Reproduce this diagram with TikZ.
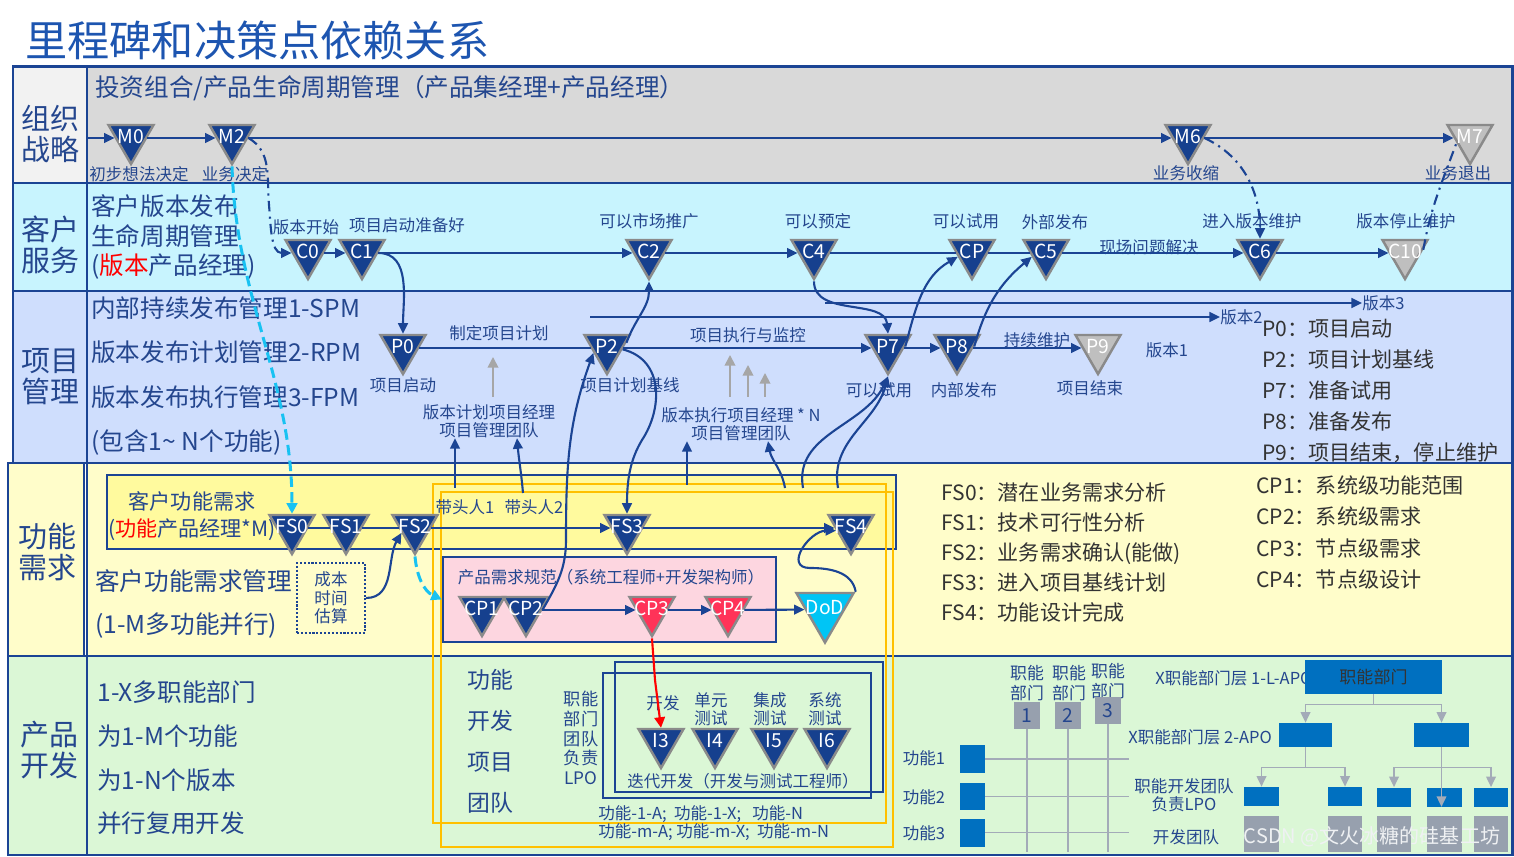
\documentclass[tikz,border=0pt]{standalone}
\usepackage{fontspec}
\setmainfont{Noto Sans CJK SC}
\usetikzlibrary{arrows.meta,shapes.geometric,positioning}

\definecolor{laneblue}{HTML}{1B4494}
\definecolor{tblue}{HTML}{24468E}
\definecolor{titleblue}{HTML}{1D55B0}
\definecolor{msblue}{HTML}{16408E}
\definecolor{msgray}{HTML}{8A8A8A}
\definecolor{offgray}{HTML}{BFBFBF}
\definecolor{strat}{HTML}{D9D9D9}
\definecolor{stratl}{HTML}{F2F2F2}
\definecolor{cust}{HTML}{C8F4FE}
\definecolor{proj}{HTML}{CFDEFD}
\definecolor{feat}{HTML}{FFFDCA}
\definecolor{dev}{HTML}{DBF7D6}
\definecolor{fsbox}{HTML}{FFFA9E}
\definecolor{reqbox}{HTML}{FDD6E0}
\definecolor{orng}{HTML}{FFC000}
\definecolor{cpred}{HTML}{FF3358}
\definecolor{dodcyan}{HTML}{00C5F5}
\definecolor{dashcyan}{HTML}{18C2F2}
\definecolor{fnblue}{HTML}{0070C0}
\definecolor{sqgray}{HTML}{97A0AE}
\definecolor{treegray}{HTML}{A3ABB8}

\begin{document}
\begin{tikzpicture}[x=0.02cm,y=-0.02cm,
  lanebox/.style={draw=laneblue,line width=1.7pt},
  ms/.style={regular polygon,regular polygon sides=3,shape border rotate=180,
    minimum size=1.04cm,inner sep=0pt,fill=msblue,draw=msgray,line width=1.4pt},
  msoff/.style={ms,fill=offgray},
  msred/.style={ms,fill=cpred},
  mslbl/.style={text=white,font=\fontsize{11}{11}\selectfont,inner sep=0pt,yshift=1pt},
  lbl/.style={text=tblue,font=\fontsize{9.4}{10.5}\selectfont,inner sep=0pt,align=center},
  lanehead/.style={text=tblue,font=\fontsize{16.5}{17.6}\selectfont,inner sep=0pt,align=center},
  lanetext/.style={text=tblue,font=\fontsize{14}{17}\selectfont,inner sep=0pt,align=left,anchor=west},
  legtext/.style={text=black!80,font=\fontsize{12}{17.6}\selectfont,inner sep=0pt,align=left,anchor=west},
  conn/.style={draw=laneblue,line width=1.2pt},
  arr/.style={conn,-{Triangle[length=6pt,width=5.5pt]}},
  dashdot/.style={dash pattern=on 6pt off 3pt on 1.2pt off 3pt},
  uparr/.style={draw=black!35,line width=1pt,-{Triangle[length=6pt,width=6pt]}},
  cyanarr/.style={draw=dashcyan,line width=1.7pt,dash pattern=on 6pt off 3pt,-{Triangle[length=6pt,width=6pt]}},
  redarr/.style={draw=red,line width=1.2pt,-{Triangle[length=6pt,width=6pt]}},
  blubox/.style={draw=laneblue,line width=1.4pt},
  orbox/.style={draw=orng,line width=1.4pt},
  treearr/.style={draw=treegray,line width=0.9pt,-{Triangle[length=6pt,width=5.5pt]}},
  gline/.style={draw=treegray,line width=0.8pt},
  fnsq/.style={fill=fnblue,inner sep=0pt},
  graysq/.style={fill=sqgray,inner sep=0pt},
]
\useasboundingbox (0,0) rectangle (1514,857);

% Title
\node[anchor=west,inner sep=0pt,text=titleblue,font=\fontsize{24}{24}\selectfont] (title) at (25,40) {里程碑和决策点依赖关系};

% Lanes
\draw[lanebox,fill=strat] (87,67) rectangle (1512,183);
\draw[lanebox,fill=stratl] (13,67) rectangle (87,183);
\draw[lanebox,fill=cust] (87,183) rectangle (1512,291);
\draw[lanebox,fill=cust] (13,183) rectangle (87,291);
\draw[lanebox,fill=proj] (87,291) rectangle (1512,463);
\draw[lanebox,fill=proj] (13,291) rectangle (87,463);
\draw[lanebox,fill=feat] (87,463) rectangle (1512,656);
\draw[lanebox,fill=feat] (8,463) rectangle (84,656);
\draw[lanebox,fill=dev] (87,656) rectangle (1512,855);
\draw[lanebox,fill=dev] (8,656) rectangle (87,855);

% Lane heads
\node[lanehead] (hstrat) at (50,134) {组织\\战略};
\node[lanehead] (hcust) at (50,245) {客户\\服务};
\node[lanehead] (hproj) at (50,377) {项目\\管理};
\node[lanehead] (hfeat) at (47,552) {功能\\需求};
\node[lanehead] (hdev) at (49,750) {产品\\开发};

% Boxes in feature and development lanes
\draw[blubox,fill=fsbox] (107,475) rectangle (896,549);
\node[blubox,fill=reqbox,minimum width=6.66cm,minimum height=1.7cm,inner sep=0pt] (req) at (609.5,599.5) {};
\draw[blubox] (615,662) rectangle (883,792);
\draw[blubox] (603,673) rectangle (871,798);
\draw[orbox] (433,484) rectangle (886,823);
\draw[orbox] (441,492) rectangle (893,847);

% Strategy lane texts
\node[lanetext] (tstrat) at (95,88) {投资组合/产品生命周期管理（产品集经理+产品经理）};
\node[lbl] (lm0) at (139,174) {初步想法决定};
\node[lbl] (lm2) at (235,174) {业务决定};
\node[lbl] (lm6) at (1186,173) {业务收缩};
\node[lbl] (lm7) at (1458,173) {业务退出};

% Customer lane texts
\node[lanetext] (tcust) at (91,237) {客户版本发布\\生命周期管理\\(\textcolor{red}{版本}产品经理)};
\node[lbl] (lc0) at (306,227) {版本开始};
\node[lbl] (lc1) at (407,225) {项目启动准备好};
\node[lbl] (lc2) at (649,221) {可以市场推广};
\node[lbl] (lc4) at (818,221) {可以预定};
\node[lbl] (lcp) at (966,221) {可以试用};
\node[lbl] (lc5) at (1055,222) {外部发布};
\node[lbl] (lfix) at (1149,247) {现场问题解决};
\node[lbl] (lc6) at (1252,221) {进入版本维护};
\node[lbl] (lc10) at (1406,221) {版本停止维护};

% Project lane texts
\node[lanetext,font=\fontsize{14}{25.2}\selectfont] (tproj) at (91,376) {内部持续发布管理1-SPM\\版本发布计划管理2-RPM\\版本发布执行管理3-FPM\\(包含1\textasciitilde{} N个功能)};
\node[lbl] (lplan) at (499,333) {制定项目计划};
\node[lbl] (lp0) at (403,385) {项目启动};
\node[lbl] (planpm) at (489,421) {版本计划项目经理\\项目管理团队};
\node[lbl] (lp2) at (630,385) {项目计划基线};
\node[lbl] (lexec) at (748,335) {项目执行与监控};
\node[lbl] (execpm) at (741,424) {版本执行项目经理 * N\\项目管理团队};
\node[lbl] (lp7) at (879,390) {可以试用};
\node[lbl] (lp8) at (964,390) {内部发布};
\node[lbl] (lmaint) at (1037,340) {持续维护};
\node[lbl] (lp9) at (1090,388) {项目结束};
\node[lbl] (v1) at (1167,350) {版本1};
\node[lbl,anchor=west] (v2) at (1220,317) {版本2};
\node[lbl,anchor=west] (v3) at (1362,303) {版本3};
\node[legtext] (plegend) at (1262,391) {P0：项目启动\\P2：项目计划基线\\P7：准备试用\\P8：准备发布\\P9：项目结束，停止维护};

% Feature lane texts
\node[text=tblue,font=\fontsize{12}{15.4}\selectfont,inner sep=0pt,align=center] (lfs) at (192,516) {客户功能需求\\(\textcolor{red}{功能}产品经理*M)};
\node[lbl] (lead1) at (465,507) {带头人1};
\node[lbl] (lead2) at (534,507) {带头人2};
\node[lanetext,font=\fontsize{14}{24.5}\selectfont] (tfeat) at (95,604) {客户功能需求管理\\(1-M多功能并行)};
\node[lbl,draw=laneblue,densely dotted,line width=1.2pt,minimum width=1.36cm,minimum height=1.4cm] (cost) at (331,598) {成本\\时间\\估算};
\node[lbl] (lreq) at (611,577) {产品需求规范（系统工程师+开发架构师）};
\node[legtext,font=\fontsize{12}{17.2}\selectfont] (fslegend) at (941,552.5) {FS0：潜在业务需求分析\\FS1：技术可行性分析\\FS2：业务需求确认(能做)\\FS3：进入项目基线计划\\FS4：功能设计完成};
\node[legtext,font=\fontsize{12}{17.9}\selectfont] (cplegend) at (1256,532.5) {CP1：系统级功能范围\\CP2：系统级需求\\CP3：节点级需求\\CP4：节点级设计};

% Development lane texts
\node[lanetext,font=\fontsize{14}{24.9}\selectfont] (tdev) at (97,758) {1-X多职能部门\\为1-M个功能\\为1-N个版本\\并行复用开发};
\node[text=tblue,font=\fontsize{13}{23.3}\selectfont,inner sep=0pt,align=center] (lteam) at (490,741) {功能\\开发\\项目\\团队};
\node[lbl,font=\fontsize{9.8}{11.2}\selectfont] (llpo) at (581,738) {职能\\部门\\团队\\负责\\LPO};
\node[lbl] (li3) at (663,703) {开发};
\node[lbl] (li4) at (711,709) {单元\\测试};
\node[lbl] (li5) at (770,709) {集成\\测试};
\node[lbl] (li6) at (825,709) {系统\\测试};
\node[lbl] (liter) at (743,781) {迭代开发（开发与测试工程师）};
\node[lbl,align=left,anchor=west] (lfunc) at (598,823) {功能-1-A;\ \ 功能-1-X;\ \ \ 功能-N\\功能-m-A; 功能-m-X;\ \ 功能-m-N};

% Milestones
\node[ms,label={[mslbl]center:M0}] (m0) at (131,138) {};
\node[ms,label={[mslbl]center:M2}] (m2) at (232,138) {};
\node[ms,label={[mslbl]center:M6}] (m6) at (1188,138) {};
\node[msoff,label={[mslbl]center:M7}] (m7) at (1470,138) {};

\node[ms,label={[mslbl]center:C0}] (c0) at (308,253) {};
\node[ms,label={[mslbl]center:C1}] (c1) at (362,253) {};
\node[ms,label={[mslbl]center:C2}] (c2) at (649,253) {};
\node[ms,label={[mslbl]center:C4}] (c4) at (814,253) {};
\node[ms,label={[mslbl]center:CP}] (cp) at (972,253) {};
\node[ms,label={[mslbl]center:C5}] (c5) at (1046,253) {};
\node[ms,label={[mslbl]center:C6}] (c6) at (1260,253) {};
\node[msoff,label={[mslbl]center:C10}] (c10) at (1405,253) {};

\node[ms,label={[mslbl]center:P0}] (p0) at (403,348) {};
\node[ms,label={[mslbl]center:P2}] (p2) at (607,348) {};
\node[ms,label={[mslbl]center:P7}] (p7) at (888,348) {};
\node[ms,label={[mslbl]center:P8}] (p8) at (957,348) {};
\node[msoff,label={[mslbl]center:P9}] (p9) at (1098,348) {};

\node[ms,label={[mslbl]center:FS0}] (fs0) at (292,528) {};
\node[ms,label={[mslbl]center:FS1}] (fs1) at (346,528) {};
\node[ms,label={[mslbl]center:FS2}] (fs2) at (415,528) {};
\node[ms,label={[mslbl]center:FS3}] (fs3) at (627,528) {};
\node[ms,label={[mslbl]center:FS4}] (fs4) at (851,528) {};

\node[ms,label={[mslbl]center:CP1}] (cp1) at (482,610) {};
\node[ms,label={[mslbl]center:CP2}] (cp2) at (526,610) {};
\node[msred,label={[mslbl]center:CP3}] (cp3) at (652,610) {};
\node[msred,label={[mslbl]center:CP4}] (cp4) at (728,610) {};
\node[ms,fill=dodcyan,minimum size=1.32cm,label={[mslbl]center:DoD}] (dod) at (825,609.5) {};

\node[ms,label={[mslbl]center:I3}] (i3) at (661,742) {};
\node[ms,label={[mslbl]center:I4}] (i4) at (715,742) {};
\node[ms,label={[mslbl]center:I5}] (i5) at (774,742) {};
\node[ms,label={[mslbl]center:I6}] (i6) at (827,742) {};

% Strategy connections
\coordinate (mstart) at (87,138);
\draw[arr] (mstart) -- (m0);
\draw[arr] (m0) -- (m2);
\draw[arr] (m2) -- (m6);
\draw[arr] (m6) -- (m7);
\draw[arr,dashdot] (m2.0) to[out=-30,in=95] (269,205) to[out=-85,in=180] (c0.180);
\draw[arr,dashdot] (m6.0) to[out=-25,in=90] (c6.90);
\draw[conn,dashdot] (c10.10) to[out=80,in=-110] (m7.200);

% Customer connections
\draw[arr] (c0) -- (c1);
\draw[arr] (c1) -- (c2);
\draw[arr] (c2) -- (c4);
\draw[conn] (c4) -- (cp);
\draw[conn] (cp) -- (c5);
\draw[arr] (c5) -- (c6);
\draw[arr] (c6) -- (c10);
\draw[arr] (c1.0) to[out=0,in=90] (p0.90);
\draw[arr] (p2.15) to[out=70,in=-90] (c2.-90);
\draw[arr] (c4.-90) to[out=-90,in=95] (p7.90);
\draw[arr] (p7.5) to[out=75,in=-150] (cp.195);
\draw[arr] (p8.5) to[out=75,in=-140] (c5.195);

% Project connections
\draw[conn] (p0) -- (p2);
\draw[arr] (p2) -- (p7);
\draw[arr] (p7) -- (p8);
\draw[arr] (p8) -- (p9);
\coordinate (v2start) at (590,317);
\coordinate (v3start) at (825,303);
\draw[arr] (v2start) -- (v2);
\draw[arr] (v3start) -- (v3);
\draw[arr] (p2.-5) .. controls (665,360) and (662,410) .. (642,440) .. controls (630,460) and (627,480) .. (fs3.90);
\draw[arr] (cp2.0) to[out=60,in=-90] (566,540) to[out=90,in=-110] (p2.200);

% Gray inputs
\coordinate (g1) at (493,397);
\coordinate (g2) at (730,397);
\coordinate (g3) at (748,397);
\coordinate (g4) at (765,397);
\draw[uparr] (g1) -- ++(0,-40);
\draw[uparr] (g2) -- ++(0,-42);
\draw[uparr] (g3) -- ++(0,-32);
\draw[uparr] (g4) -- ++(0,-24);

% Team feedback
\coordinate (o1) at (455,488);
\coordinate (o2) at (523,493);
\coordinate (o3) at (687,485);
\coordinate (o4) at (785,488);
\coordinate (o5) at (803,488);
\coordinate (o6) at (838,488);
\draw[arr] (o1) -- (o1 |- planpm.south);
\draw[arr] (o2) to[out=95,in=-85] (planpm.south -| 517,0);
\draw[arr] (o3) -- (o3 |- execpm.south);
\draw[arr] (o4) to[out=100,in=-80] (execpm.south -| 768,0);
\draw[arr] (o5) to[out=100,in=-115] (p7.-90);
\draw[arr] (o6) to[out=100,in=-105] (p7.-90);

% Feature connections
\draw[conn] (fs0) -- (fs1);
\draw[conn] (fs1) -- (fs2);
\draw[arr] (fs2) -- (fs3);
\draw[arr] (fs3) -- (fs4);
\draw[arr] (cost.east) to[out=0,in=-120] (fs2.200);
\draw[cyanarr] (m2.-90) .. controls (236,300) and (292,380) .. (fs0.90);
\draw[cyanarr] (fs2.-90) to[out=-85,in=155] (req.west);
\draw[arr] (cp2) -- (cp3);
\draw[arr] (cp3) -- (cp4);
\draw[arr] (cp4) -- (dod);
\draw[arr] (dod.30) to[out=100,in=0] (810,568) to[out=180,in=180,looseness=1.5] (fs4.190);
\coordinate (rj) at (655,680);
\draw[redarr] (cp3.-90) -- (rj) -- (i3.90);

% Function / department matrix
\node[lbl,font=\fontsize{9.6}{11.4}\selectfont] (col1) at (1027,683) {职能\\部门};
\node[lbl,font=\fontsize{9.6}{11.4}\selectfont] (col2) at (1069,683) {职能\\部门};
\node[lbl,font=\fontsize{9.6}{11.4}\selectfont] (col3) at (1108,681) {职能\\部门};
\node[graysq,minimum width=0.52cm,minimum height=0.54cm,text=tblue,font=\fontsize{11}{11}\selectfont] (q1) at (1027,715.5) {1};
\node[graysq,minimum width=0.52cm,minimum height=0.54cm,text=tblue,font=\fontsize{11}{11}\selectfont] (q2) at (1068,715.5) {2};
\node[graysq,minimum width=0.52cm,minimum height=0.54cm,text=tblue,font=\fontsize{11}{11}\selectfont] (q3) at (1108,710.5) {3};
\node[fnsq,minimum width=0.5cm,minimum height=0.56cm] (f1) at (972.5,759) {};
\node[fnsq,minimum width=0.5cm,minimum height=0.56cm] (f2) at (972.5,796.5) {};
\node[fnsq,minimum width=0.5cm,minimum height=0.56cm] (f3) at (972.5,832.5) {};
\node[lbl] (lf1) at (924,758) {功能1};
\node[lbl] (lf2) at (924,797) {功能2};
\node[lbl] (lf3) at (924,833) {功能3};
\draw[gline] (q1.south) -- ++(0,123);
\draw[gline] (q2.south) -- ++(0,123);
\draw[gline] (q3.south) -- ++(0,128);
\draw[gline] (f1.east) -- ++(144,0);
\draw[gline] (f2.east) -- ++(144,0);
\draw[gline] (f3.east) -- ++(144,0);

% Department tree
\node[lbl,anchor=west] (lay1) at (1155,678) {X职能部门层 1-L-APO};
\node[lbl,anchor=west] (lay2) at (1128,737) {X职能部门层 2-APO};
\node[lbl] (lay3) at (1184,795) {职能开发团队\\负责LPO};
\node[lbl] (lay4) at (1186,837) {开发团队};
\node[fnsq,minimum width=2.74cm,minimum height=0.68cm,text=black!80,font=\fontsize{9.7}{10}\selectfont] (fdept) at (1373.5,677) {职能部门};
\node[fnsq,minimum width=1.06cm,minimum height=0.48cm] (l2a) at (1305.5,735) {};
\node[fnsq,minimum width=1.1cm,minimum height=0.48cm] (l2b) at (1441.5,735) {};
\node[fnsq,minimum width=0.7cm,minimum height=0.38cm] (t1) at (1261.5,796.5) {};
\node[fnsq,minimum width=0.68cm,minimum height=0.38cm] (t2) at (1345,796.5) {};
\node[fnsq,minimum width=0.68cm,minimum height=0.38cm] (t3) at (1394,797) {};
\node[fnsq,minimum width=0.7cm,minimum height=0.38cm] (t4) at (1444.5,797) {};
\node[fnsq,minimum width=0.68cm,minimum height=0.38cm] (t5) at (1491,797) {};
\node[graysq,minimum width=0.7cm,minimum height=0.72cm] (d1) at (1261.5,834) {};
\node[graysq,minimum width=0.68cm,minimum height=0.72cm] (d2) at (1345,834) {};
\node[graysq,minimum width=0.68cm,minimum height=0.72cm] (d3) at (1394,834) {};
\node[graysq,minimum width=0.7cm,minimum height=0.72cm] (d4) at (1444.5,834) {};
\node[graysq,minimum width=0.68cm,minimum height=0.72cm] (d5) at (1491,834) {};
\draw[treearr] (fdept.south) -- ++(0,10) -| (l2a.north);
\draw[treearr] (fdept.south) -- ++(0,10) -| (l2b.north);
\draw[treearr] (l2a.south) -- ++(0,20) -| (t1.north);
\draw[treearr] (l2a.south) -- ++(0,20) -| (t2.north);
\draw[treearr] (l2b.south) -- ++(0,20) -| (t3.north);
\draw[treearr] (l2b.south) -- ++(0,20) -| (t5.north);
\draw[treearr] (l2b.south) -- (l2b.south |- t4.south);

% Watermark
\node[inner sep=0pt,text=white!85!sqgray,font=\fontsize{11.4}{12}\selectfont] (wm) at (1372,837) {CSDN @文火冰糖的硅基工坊};

\end{tikzpicture}
\end{document}
